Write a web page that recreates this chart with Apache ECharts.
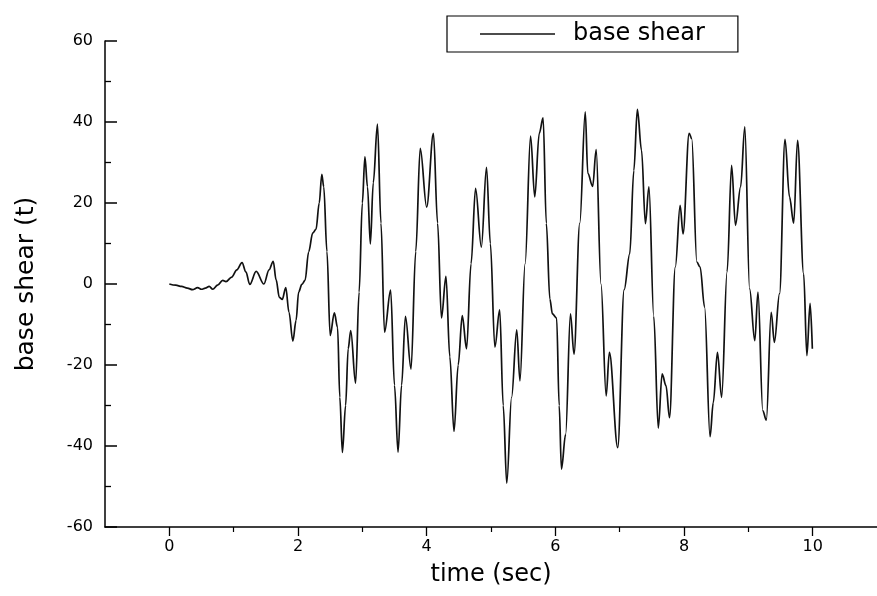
<!DOCTYPE html>
<html>
<head>
<meta charset="utf-8">
<script src="https://cdn.jsdelivr.net/npm/echarts@6/dist/echarts.min.js"></script>
<style>
html,body{margin:0;padding:0;background:#fff;}
#chart{width:877px;height:596px;}
</style>
</head>
<body>
<div id="chart"></div>
<script>
var seriesName = 'base shear';
var xTitle = 'time (sec)';
var yTitle = 'base shear (t)';
var xMajorTicks = [0, 2, 4, 6, 8, 10];
var xMinorTicks = [1, 3, 5, 7, 9];
var yTicks = [-60, -40, -20, 0, 20, 40, 60];

var timeSec = [
 0.00,0.10,0.19,0.28,0.36,0.44,0.50,0.56,0.62,0.675,0.75,0.83,0.88,0.97,1.05,1.13,1.19,1.25,1.35,1.47,
 1.55,1.615,1.66,1.71,1.755,1.81,1.86,1.92,1.97,2.01,2.06,2.11,2.165,2.23,2.28,2.33,2.37,2.40,2.45,2.50,
 2.565,2.615,2.65,2.69,2.74,2.78,2.82,2.895,2.95,3.00,3.04,3.08,3.125,3.17,3.235,3.29,3.345,3.44,3.50,3.555,
 3.61,3.67,3.757,3.83,3.90,4.00,4.105,4.17,4.23,4.30,4.36,4.425,4.49,4.553,4.62,4.69,4.76,4.85,4.93,4.99,
 5.06,5.135,5.19,5.245,5.32,5.40,5.45,5.53,5.615,5.68,5.75,5.81,5.86,5.915,5.955,6.02,6.06,6.095,6.16,6.235,
 6.29,6.38,6.465,6.505,6.58,6.635,6.71,6.79,6.84,6.97,7.07,7.157,7.22,7.275,7.34,7.40,7.455,7.53,7.60,7.66,
 7.72,7.775,7.865,7.94,7.985,8.08,8.12,8.20,8.25,8.32,8.405,8.455,8.52,8.585,8.67,8.74,8.80,8.88,8.945,9.02,
 9.10,9.15,9.225,9.28,9.355,9.405,9.485,9.57,9.64,9.705,9.765,9.86,9.91,9.96,9.995
];
var baseShear = [
 0.0,-0.3,-0.6,-1.0,-1.4,-0.9,-1.3,-1.0,-0.6,-1.3,-0.3,0.9,0.6,1.7,3.5,5.3,3.0,-0.1,3.1,0.0,
 3.5,5.6,1.0,-3.3,-3.8,-0.9,-7,-14.1,-9,-2.0,-0.1,0.9,7.9,12.6,13.5,20,27.1,24,8,-12.7,
 -7.1,-10.7,-28,-41.6,-30,-16,-11.5,-24.5,-2,20,31.4,24,9.9,25,39.5,15,-11.9,-1.5,-25,-41.5,
 -25,-8.0,-21,8,33.5,19.0,37.2,15,-8.4,1.9,-18,-36.4,-20,-7.8,-16,5,23.6,9.1,28.8,10,
 -15.6,-6.4,-30,-49.2,-28,-11.3,-23.9,5,36.5,21.5,37.2,41.0,15,-3.7,-7.4,-8.4,-30,-45.7,-37.1,-7.4,
 -17.3,15,42.5,27.3,24.1,33.2,0,-27.6,-16.9,-40.4,-1.4,7.5,28,43.1,33,14.9,24,-8,-35.6,-22.2,
 -25.1,-33,4.2,19.4,12.4,37.2,35.9,5.4,4.2,-5.7,-37.7,-29.3,-16.9,-28,3,29.3,14.5,24,38.8,-1.2,
 -14,-2,-31.3,-33.6,-7,-14.4,-2.4,35.7,21.5,15,35.5,2.5,-17.7,-4.8,-16
];

var data = timeSec.map(function (t, i) { return [t, baseShear[i]]; });

var chart = echarts.init(document.getElementById('chart'), null, {renderer: 'canvas'});
var axisCol = '#000';
var sans = 'DejaVu Sans';
chart.setOption({
  animation: false,
  backgroundColor: '#fff',
  grid: {left: 105, top: 41, width: 779, height: 486, containLabel: false},
  legend: {
    show: true,
    data: [{name: seriesName, icon: 'path://M0,0H750V16H0Z'}],
    left: 447, top: 16,
    padding: [6, 33, 6, 33],
    itemWidth: 75, itemHeight: 1.6,
    itemGap: 0,
    borderColor: '#000', borderWidth: 1.2,
    itemStyle: {color: '#111'},
    textStyle: {fontFamily: sans, fontSize: 24, color: '#000', padding: [0, 0, 0, 13]}
  },
  xAxis: [{
    type: 'value', min: -1, max: 11,
    name: xTitle, nameLocation: 'middle', nameGap: 36,
    nameTextStyle: {fontFamily: sans, fontSize: 24, color: '#000'},
    axisLine: {show: true, onZero: false, lineStyle: {color: axisCol, width: 1.5}},
    axisTick: {show: true, inside: true, length: -9, customValues: xMajorTicks, lineStyle: {color: axisCol, width: 1.3}},
    axisLabel: {show: true, customValues: xMajorTicks, margin: 12, fontFamily: sans, fontSize: 16, color: '#000'},
    splitLine: {show: false}
  }, {
    type: 'value', min: -1, max: 11, position: 'bottom',
    axisLine: {show: false, onZero: false},
    axisTick: {show: true, inside: true, length: -5, customValues: xMinorTicks, lineStyle: {color: axisCol, width: 1.2}},
    axisLabel: {show: false},
    splitLine: {show: false}
  }],
  yAxis: {
    type: 'value', min: -60, max: 60, interval: 20,
    name: yTitle, nameLocation: 'middle', nameGap: 66, nameRotate: 90,
    nameTextStyle: {fontFamily: sans, fontSize: 25, color: '#000'},
    axisLine: {show: true, onZero: false, lineStyle: {color: axisCol, width: 1.5}},
    axisTick: {show: true, inside: true, length: 12, lineStyle: {color: axisCol, width: 1.5}},
    minorTick: {show: true, splitNumber: 2, length: 6, lineStyle: {color: axisCol, width: 1.3}},
    axisLabel: {show: true, margin: 12, fontFamily: sans, fontSize: 16, color: '#000',
      formatter: function (v) { return yTicks.indexOf(v) >= 0 ? String(v) : ''; }},
    splitLine: {show: false}
  },
  series: [{
    name: seriesName,
    type: 'line',
    xAxisIndex: 0,
    data: data,
    showSymbol: false,
    symbol: 'none',
    smooth: 0.35,
    smoothMonotone: 'x',
    lineStyle: {color: '#111', width: 1.7},
    itemStyle: {color: '#111'}
  }]
});
</script>
</body>
</html>
